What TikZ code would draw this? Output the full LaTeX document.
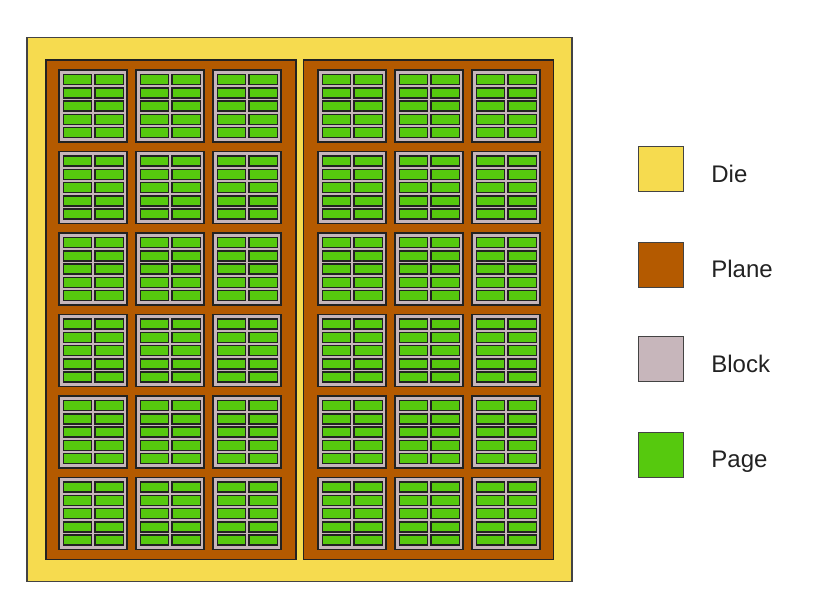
\documentclass[tikz,border=0pt]{standalone}
\usepackage{fontspec}
\setmainfont{Liberation Sans}
\usetikzlibrary{positioning}

\definecolor{diecol}{HTML}{F6DB4F}
\definecolor{planecol}{HTML}{B45A00}
\definecolor{blockcol}{HTML}{C7B6BB}
\definecolor{pagecol}{HTML}{56C90E}
\definecolor{edgecol}{HTML}{222222}

\tikzset{
  dieshape/.style={draw=edgecol!85, fill=diecol, line width=0.8pt},
  planeshape/.style={draw=edgecol, fill=planecol, line width=0.9pt},
  blockshape/.style={draw=edgecol, fill=blockcol, line width=1.1pt},
  pageshape/.style={draw=edgecol, fill=pagecol, line width=1.1pt},
  legendkey/.style={draw=edgecol!85, line width=0.9pt, minimum size=34pt, inner sep=0pt},
  legendtext/.style={font=\fontsize{18pt}{20pt}\selectfont, text=edgecol, inner sep=0pt,
    text height=13.4pt, text depth=0pt, right=20pt of #1, yshift=-3pt}
}

\begin{document}
\begin{tikzpicture}[x=0.75pt, y=-0.75pt]
  \useasboundingbox (0,0) rectangle (816,612);
  \coordinate (die_nw) at (27,37.5);
  \coordinate (die_se) at (572,581.7);
  \coordinate (p1_nw) at (46,60);
  \coordinate (p1_se) at (296,559.3);
  \coordinate (p2_nw) at (303.3,60);
  \coordinate (p2_se) at (553.3,559.3);
  % die and its two planes
  \draw[dieshape] (die_nw) rectangle (die_se);
  \draw[planeshape] (p1_nw) rectangle (p1_se);
  \draw[planeshape] (p2_nw) rectangle (p2_se);
  % blocks, each with 2 x 5 pages
  \foreach \bx in {59,136,213,318,395,472} {
    \foreach \r in {0,...,5} {
      \pgfmathsetmacro{\by}{70+81.5*\r}
      \draw[blockshape] (\bx,\by) rectangle ++(68,72);
      \foreach \c in {0,1} {
        \foreach \k in {0,...,4} {
          \draw[pageshape] ({\bx+4.3+31.8*\c},{\by+4.5+13.3*\k}) rectangle ++(28.3,10);
        }
      }
    }
  }
  % legend
  \node[legendkey, fill=diecol] (dieKey) at (661.2,169.2) {};
  \node[legendkey, fill=planecol] (planeKey) at (661.2,264.8) {};
  \node[legendkey, fill=blockcol] (blockKey) at (661.2,359.2) {};
  \node[legendkey, fill=pagecol] (pageKey) at (661.2,455) {};
  \node[legendtext=dieKey] (dieText) {Die};
  \node[legendtext=planeKey] (planeText) {Plane};
  \node[legendtext=blockKey] (blockText) {Block};
  \node[legendtext=pageKey] (pageText) {Page};
\end{tikzpicture}
\end{document}
